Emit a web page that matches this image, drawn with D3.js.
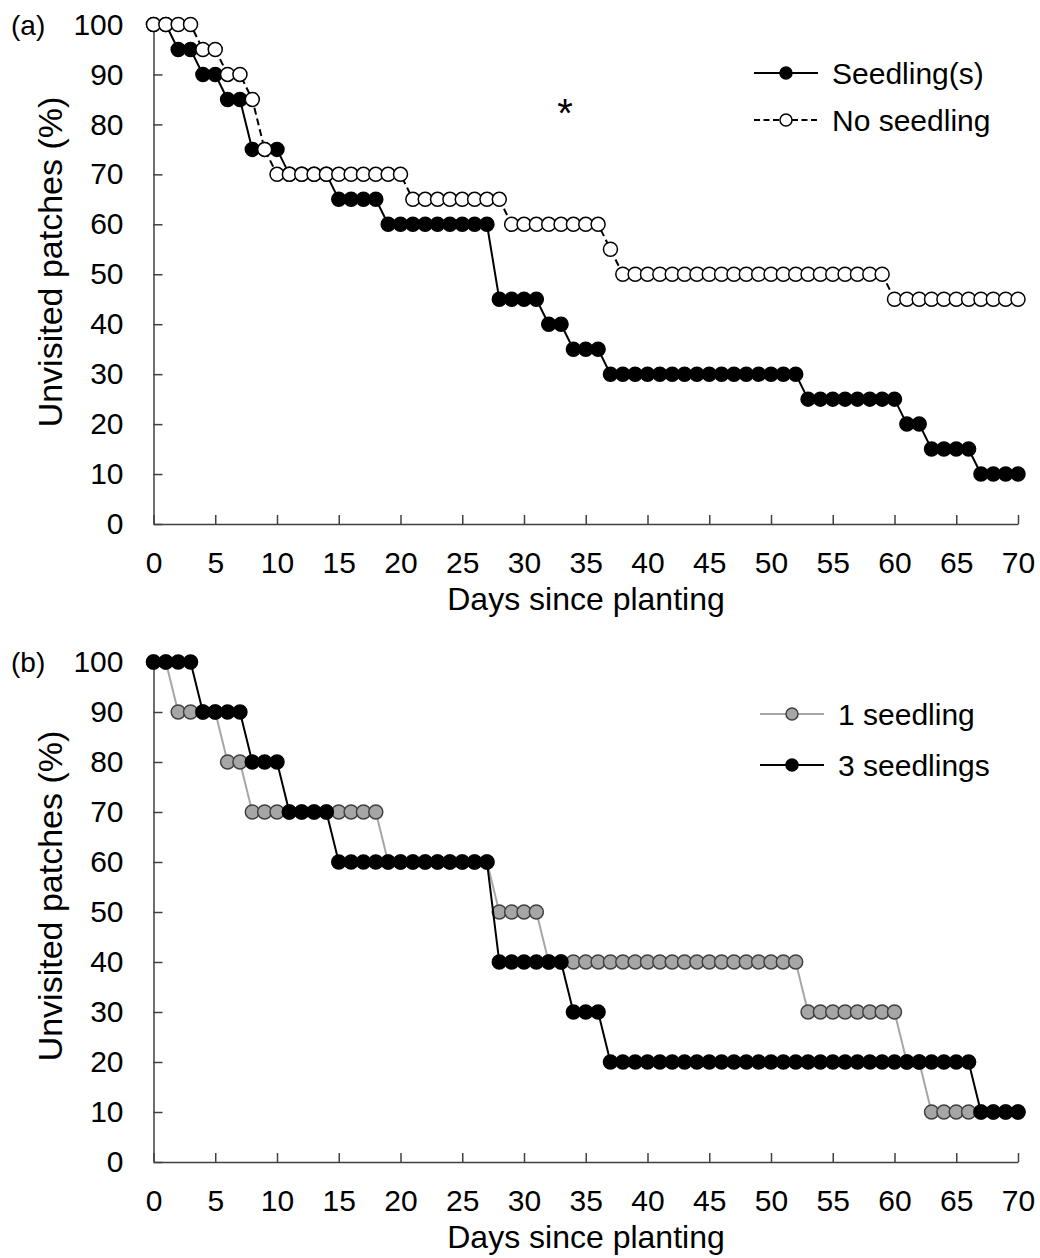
<!DOCTYPE html>
<html>
<head>
<meta charset="utf-8">
<script src="https://cdn.jsdelivr.net/npm/d3@7"></script>
<style>
    body { margin: 0; background: #fff; }
    svg text { font-family: "Liberation Sans", Arial, sans-serif; fill: #000; }
</style>
</head>
<body>
<div id="chart"></div>
<script>

// days since planting (x values)
let days = [0,1,2,3,4,5,6,7,8,9,10,11,12,13,14,15,16,17,18,19,20,
    21,22,23,24,25,26,27,28,29,30,31,32,33,34,35,36,37,38,39,40,
    41,42,43,44,45,46,47,48,49,50,51,52,53,54,55,56,57,58,59,60,
    61,62,63,64,65,66,67,68,69,70];

// panel (a)
let seedlingVals = [100,100,95,95,90,90,85,85,75,75,75,70,70,70,70,65,65,65,65,
    60,60,60,60,60,60,60,60,60,45,45,45,45,40,40,35,35,35,
    30,30,30,30,30,30,30,30,30,30,30,30,30,30,30,30,
    25,25,25,25,25,25,25,25,20,20,15,15,15,15,10,10,10,10];
let noSeedlingVals = [100,100,100,100,95,95,90,90,85,75,
    70,70,70,70,70,70,70,70,70,70,70,65,65,65,65,65,65,65,65,
    60,60,60,60,60,60,60,60,55,
    50,50,50,50,50,50,50,50,50,50,50,50,50,50,50,50,50,50,50,50,50,50,
    45,45,45,45,45,45,45,45,45,45,45];

// panel (b)
let oneSeedlingVals = [100,100,90,90,90,90,80,80,
    70,70,70,70,70,70,70,70,70,70,70,60,60,60,60,60,60,60,60,60,
    50,50,50,50,40,40,40,40,40,40,40,40,40,40,40,40,40,40,40,40,40,40,40,40,40,
    30,30,30,30,30,30,30,30,20,20,10,10,10,10,10,10,10,10];
let threeSeedlingsVals = [100,100,100,100,90,90,90,90,80,80,80,70,70,70,70,
    60,60,60,60,60,60,60,60,60,60,60,60,60,40,40,40,40,40,40,30,30,30,
    20,20,20,20,20,20,20,20,20,20,20,20,20,20,20,20,20,20,20,20,20,20,20,20,20,20,20,20,20,20,
    10,10,10,10];

let xTicks = [0,5,10,15,20,25,30,35,40,45,50,55,60,65,70];
let yTicks = [0,10,20,30,40,50,60,70,80,90,100];


/* * * * * * * * * * * * * *
*      class StepVis       *
* * * * * * * * * * * * * */

class StepVis {

    constructor(svg, config){
        this.svg = svg;
        this.config = config;
        this.initVis();
    }

    initVis(){
        let vis = this;
        let c = vis.config;

        vis.x = d3.scaleLinear().domain([0, 70]).range([153.5, 1018]);
        vis.y = d3.scaleLinear().domain([0, 100]).range([c.bottom, c.top]);

        vis.g = vis.svg.append('g');

        // axes
        vis.g.append('g')
            .attr('class', 'axis')
            .attr('transform', `translate(0, ${c.bottom})`)
            .call(d3.axisBottom(vis.x).tickValues(xTicks).tickSize(-9).tickSizeOuter(0).tickPadding(28));

        vis.g.append('g')
            .attr('class', 'axis')
            .attr('transform', `translate(${vis.x(0)}, 0)`)
            .call(d3.axisLeft(vis.y).tickValues(yTicks).tickSize(-9).tickSizeOuter(0).tickPadding(30));

        vis.g.selectAll('.axis path, .axis line')
            .attr('stroke', '#404040')
            .attr('stroke-width', 1.5);
        vis.g.selectAll('.axis text')
            .style('font-size', '30px')
            .attr('fill', '#000');

        // axis titles
        vis.g.append('text')
            .attr('x', 586)
            .attr('y', c.bottom + 86)
            .attr('text-anchor', 'middle')
            .style('font-size', '32px')
            .text('Days since planting');

        vis.g.append('text')
            .attr('transform', `translate(62, ${c.titleY}) rotate(-90)`)
            .attr('text-anchor', 'middle')
            .style('font-size', '34px')
            .text('Unvisited patches (%)');

        // panel letter
        vis.g.append('text')
            .attr('x', 11)
            .attr('y', c.top + 10)
            .style('font-size', '28px')
            .text(c.label);

        this.wrangleData();
    }

    wrangleData(){
        let vis = this;

        vis.displayData = vis.config.series.map(s => {
            return {
                style: s,
                points: days.map((d, i) => ({day: d, value: s.values[i]}))
            };
        });

        vis.updateVis();
    }

    updateVis(){
        let vis = this;

        let line = d3.line()
            .x(d => vis.x(d.day))
            .y(d => vis.y(d.value));

        vis.displayData.forEach(s => {
            let st = s.style;
            let grp = vis.g.append('g');

            grp.append('path')
                .datum(s.points)
                .attr('d', line)
                .attr('fill', 'none')
                .attr('stroke', st.lineColor)
                .attr('stroke-width', 2)
                .attr('stroke-dasharray', st.dash || null);

            grp.selectAll('circle')
                .data(s.points)
                .enter()
                .append('circle')
                .attr('cx', d => vis.x(d.day))
                .attr('cy', d => vis.y(d.value))
                .attr('r', 7)
                .attr('fill', st.fill)
                .attr('stroke', st.stroke)
                .attr('stroke-width', 1.5);

            // legend entry
            let lg = vis.g.append('g')
                .attr('transform', `translate(0, ${st.legendY})`);
            lg.append('line')
                .attr('x1', st.legendX)
                .attr('x2', st.legendX + 64)
                .attr('stroke', st.lineColor)
                .attr('stroke-width', 2)
                .attr('stroke-dasharray', st.dash ? '6,3.5' : null);
            lg.append('circle')
                .attr('cx', st.legendX + 32)
                .attr('r', 6)
                .attr('fill', st.fill)
                .attr('stroke', st.stroke)
                .attr('stroke-width', 1.5);
            lg.append('text')
                .attr('x', st.legendX + 78)
                .attr('dy', '0.35em')
                .style('font-size', '30px')
                .text(st.name);
        });
    }
}


let svg = d3.select('#chart').append('svg')
    .attr('width', 1040)
    .attr('height', 1258);

let panelA = new StepVis(svg, {
    label: '(a)',
    top: 24.5,
    bottom: 524,
    titleY: 262,
    series: [
        {name: 'Seedling(s)', values: seedlingVals, lineColor: '#000', fill: '#000', stroke: '#000',
            legendX: 754, legendY: 73},
        {name: 'No seedling', values: noSeedlingVals, lineColor: '#000', fill: '#fff', stroke: '#000',
            dash: '7,4', legendX: 754, legendY: 120}
    ]
});

// significance marker
svg.append('text')
    .attr('x', 565)
    .attr('y', 127)
    .attr('text-anchor', 'middle')
    .style('font-size', '40px')
    .text('*');

let panelB = new StepVis(svg, {
    label: '(b)',
    top: 662,
    bottom: 1162,
    titleY: 896,
    series: [
        {name: '1 seedling', values: oneSeedlingVals, lineColor: '#a6a6a6', fill: '#a6a6a6', stroke: '#404040',
            legendX: 760, legendY: 714},
        {name: '3 seedlings', values: threeSeedlingsVals, lineColor: '#000', fill: '#000', stroke: '#000',
            legendX: 760, legendY: 765}
    ]
});

</script>
</body>
</html>
